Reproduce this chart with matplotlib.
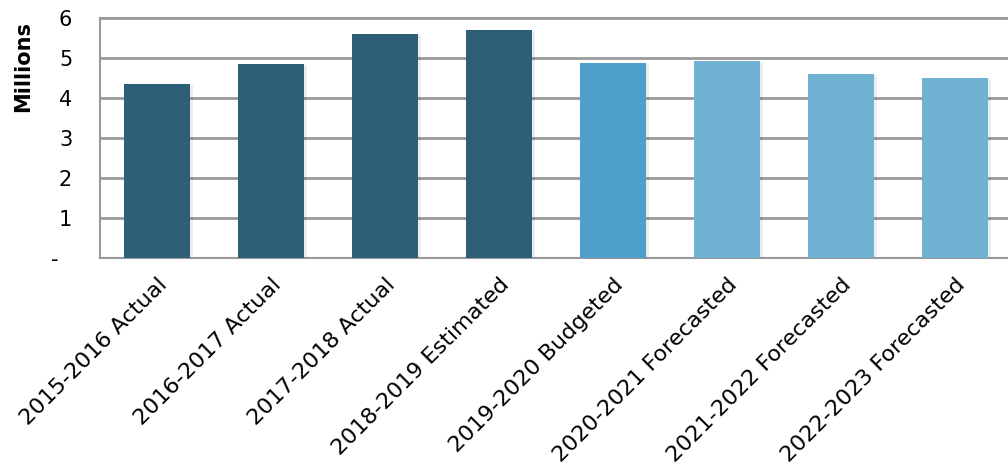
import matplotlib
matplotlib.use("Agg")
import matplotlib.pyplot as plt
import matplotlib.patheffects as pe

categories = [
    "2015-2016 Actual", "2016-2017 Actual", "2017-2018 Actual",
    "2018-2019 Estimated", "2019-2020 Budgeted", "2020-2021 Forecasted",
    "2021-2022 Forecasted", "2022-2023 Forecasted",
]
values = [4.35, 4.85, 5.60, 5.70, 4.88, 4.93, 4.60, 4.50]
bar_colors = ["#2E5F78"] * 4 + ["#4EA0CB"] + ["#71B2D4"] * 3
y_ticks = [0, 1, 2, 3, 4, 5, 6]
y_tick_labels = ["-  ", "1", "2", "3", "4", "5", "6"]

plt.rcParams["font.family"] = ["DejaVu Sans"]

fig = plt.figure(figsize=(10.08, 4.67), dpi=100)
ax = fig.add_axes([100 / 1008, 1 - 258 / 467, 912 / 1008, 240 / 467])

x = range(len(categories))
bars = ax.bar(x, values, width=0.58, color=bar_colors, zorder=3)
for b in bars:
    b.set_path_effects([
        pe.SimplePatchShadow(offset=(2, -1), shadow_rgbFace="#000000", alpha=0.07),
        pe.Normal(),
    ])

ax.set_xlim(-0.5, len(categories) - 0.5)
ax.set_ylim(0, 6)
ax.set_yticks(y_ticks)
ax.set_yticklabels(y_tick_labels, fontsize=15)
ax.set_xticks(list(x))
ax.set_xticklabels(categories, fontsize=16, rotation=45, ha="right",
                   rotation_mode="anchor")
ax.tick_params(axis="both", length=0)
ax.tick_params(axis="y", pad=20)
ax.tick_params(axis="x", pad=12)

ax.yaxis.grid(True, color="#9A9A9A", linewidth=2, zorder=0)
for s in ax.spines.values():
    s.set_color("#9A9A9A")
    s.set_linewidth(1.5)
ax.spines["right"].set_visible(False)

ax.set_ylabel("Millions", fontsize=15, fontweight="bold")
ax.yaxis.set_label_coords(-0.073, 0.8)

fig.savefig("out.png", dpi=100)
